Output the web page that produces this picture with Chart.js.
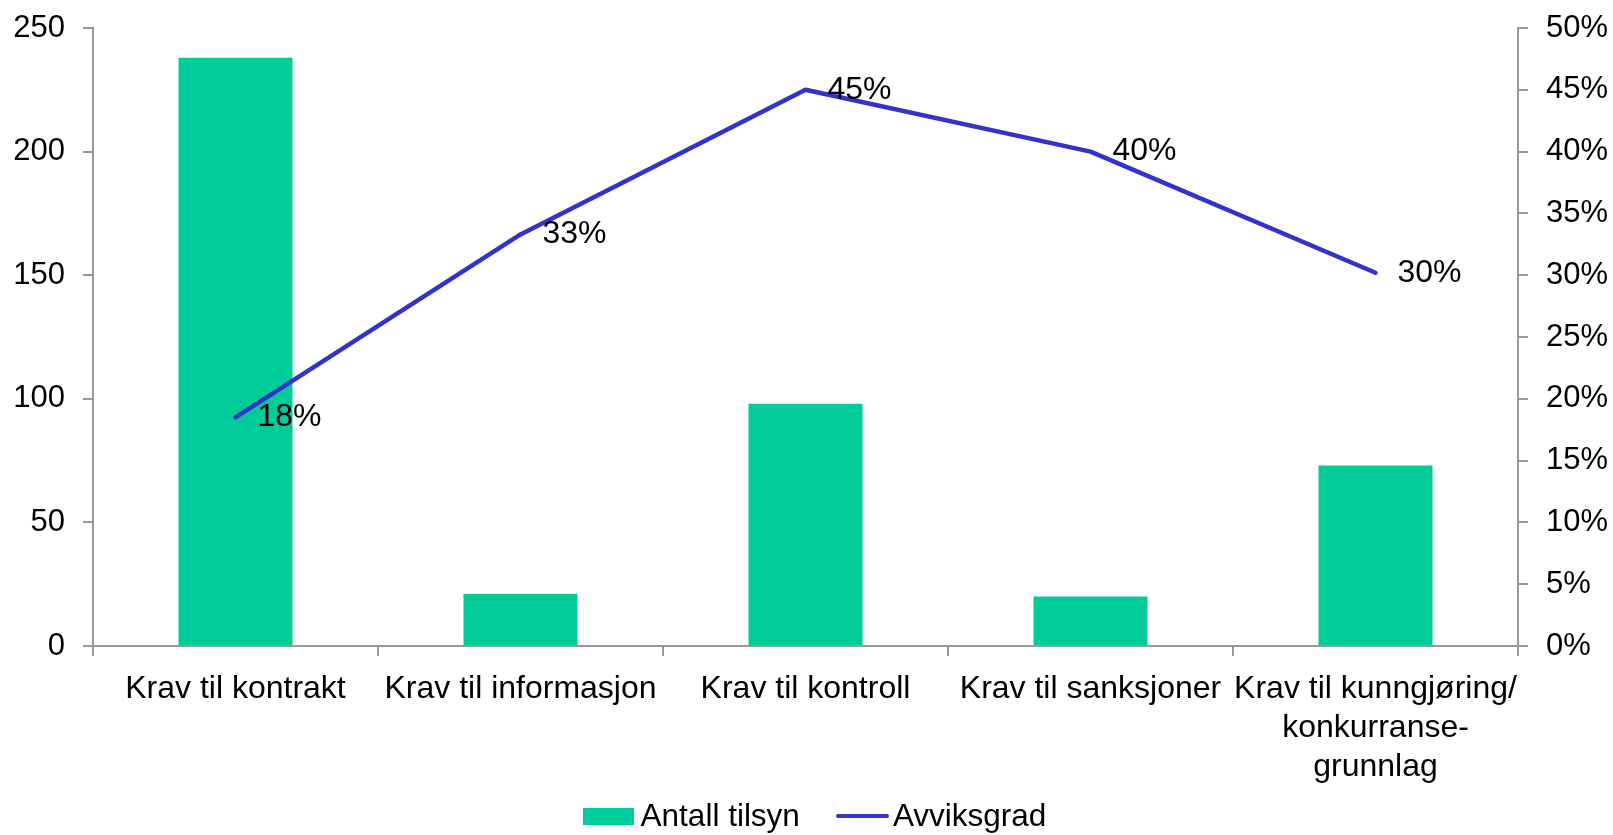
<!DOCTYPE html>
<html>
<head>
<meta charset="utf-8">
<script src="https://cdn.jsdelivr.net/npm/chart.js@4/dist/chart.umd.min.js"></script>
<style>
  html, body { margin:0; padding:0; background:#fff; }
  #wrap { position:relative; width:1613px; height:835px; }
  #c { position:absolute; left:0; top:0; }
  #legend { position:absolute; left:0; top:798px; width:1613px; height:36px; display:flex; justify-content:center; align-items:center;
    box-sizing:border-box; padding-left:16px;
    font-family:"Liberation Sans", Arial, sans-serif; font-size:31.5px; color:#000; line-height:1; }
  .box { width:51px; height:17px; background:#00CC99; margin-right:7px; }
  .ln { width:53px; height:4.5px; border-radius:2px; background:#3333CC; margin-left:36px; margin-right:4px; }
</style>
</head>
<body>
<div id="wrap">
  <canvas id="c" width="1613" height="835"></canvas>
  <div id="legend"><span class="box"></span><span id="l1"></span><span class="ln"></span><span id="l2"></span></div>
</div>
<script>
const categories = ["Krav til kontrakt", "Krav til informasjon", "Krav til kontroll", "Krav til sanksjoner", ["Krav til kunngjøring/", "konkurranse-", "grunnlag"]];
const antallTilsyn = [238, 21, 98, 20, 73];
const avviksgrad = [0.185, 0.333, 0.45, 0.40, 0.302];
const avviksLabels = ["18%", "33%", "45%", "40%", "30%"];
const seriesNames = ["Antall tilsyn", "Avviksgrad"];

document.getElementById('l1').textContent = seriesNames[0];
document.getElementById('l2').textContent = seriesNames[1];

const FONT = "'Liberation Sans', Arial, sans-serif";
Chart.defaults.font.family = FONT;
Chart.defaults.font.size = 31;
Chart.defaults.color = '#000';

const labelPlugin = {
  id: 'pctLabels',
  afterDatasetsDraw(chart) {
    const meta = chart.getDatasetMeta(1);
    const ctx = chart.ctx;
    ctx.save();
    ctx.font = "32px " + FONT;
    ctx.fillStyle = '#000';
    ctx.textAlign = 'left';
    ctx.textBaseline = 'middle';
    meta.data.forEach((pt, i) => {
      ctx.fillText(avviksLabels[i], pt.x + 22, pt.y);
    });
    ctx.restore();
  }
};

const axisColor = '#999999';

new Chart(document.getElementById('c'), {
  type: 'bar',
  data: {
    labels: categories,
    datasets: [
      {
        type: 'bar', label: seriesNames[0], data: antallTilsyn,
        backgroundColor: '#00CC99', yAxisID: 'y', order: 1,
        barPercentage: 0.4, categoryPercentage: 1.0
      },
      {
        type: 'line', label: seriesNames[1], data: avviksgrad,
        borderColor: '#3333CC', borderWidth: 4.5, borderCapStyle: 'round', borderJoinStyle: 'round',
        pointRadius: 0, tension: 0, fill: false, yAxisID: 'y1', order: 0
      }
    ]
  },
  options: {
    responsive: false,
    animation: false,
    layout: { padding: { top: 28, left: 0, right: 0, bottom: 0 } },
    plugins: { legend: { display: false }, tooltip: { enabled: false } },
    scales: {
      x: {
        grid: { display: true, drawOnChartArea: false, drawTicks: true, tickLength: 10, color: axisColor, lineWidth: 2, offset: true },
        border: { display: true, color: axisColor, width: 2 },
        ticks: { padding: 14, maxRotation: 0, autoSkip: false, font: { size: 32, lineHeight: 1.22 } },
        afterFit(scale) { scale.height = 835 - 646; }
      },
      y: {
        position: 'left', min: 0, max: 250,
        grid: { display: true, drawOnChartArea: false, tickLength: 10, color: axisColor, lineWidth: 2 },
        border: { display: true, color: axisColor, width: 2 },
        ticks: { stepSize: 50, padding: 18, font: { size: 31 } },
        afterFit(scale) { scale.width = 93; scale.paddingTop = 0; scale.paddingBottom = 0; }
      },
      y1: {
        position: 'right', min: 0, max: 0.5,
        grid: { display: true, drawOnChartArea: false, tickLength: 10, color: axisColor, lineWidth: 2 },
        border: { display: true, color: axisColor, width: 2 },
        ticks: { stepSize: 0.05, padding: 18, font: { size: 31 },
          callback: (v) => Math.round(v * 100) + '%' },
        afterFit(scale) { scale.width = 1613 - 1518; scale.paddingTop = 0; scale.paddingBottom = 0; }
      }
    }
  },
  plugins: [labelPlugin]
});
</script>
</body>
</html>
